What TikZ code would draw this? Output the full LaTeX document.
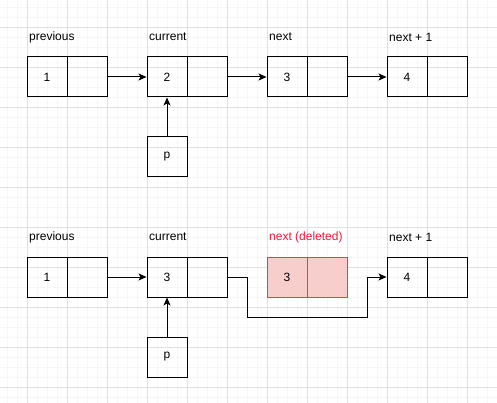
\documentclass[tikz,border=0pt]{standalone}
\usepackage{fontspec}
\setmainfont{Liberation Sans}
\usetikzlibrary{arrows.meta}
\definecolor{gridminor}{HTML}{F6F6F6}
\definecolor{gridmajor}{HTML}{E0E0E0}
\definecolor{delfill}{HTML}{F8CECC}
\definecolor{deldraw}{HTML}{B85450}
\definecolor{delred}{HTML}{EC1C3C}
\tikzset{
  cell/.style={draw=black, line width=1pt, minimum width=40pt, minimum height=40pt, inner sep=0pt, font=\fontsize{12}{14}\selectfont},
  delcell/.style={cell, draw=deldraw, fill=delfill},
  lbl/.style={anchor=west, inner sep=0pt, font=\fontsize{12}{14}\selectfont},
  arr/.style={line width=1pt, -{Stealth[length=8pt,width=7pt,inset=2pt]}},
}
\begin{document}
\begin{tikzpicture}[x=1pt,y=-1pt]
\useasboundingbox (0,0) rectangle (497,403);
\fill[white] (0,0) rectangle (497,403);
% grid
\foreach \x in {7,17,...,497} \draw[gridminor, line width=0.8pt] (\x,0) -- (\x,403);
\foreach \y in {7,17,...,403} \draw[gridminor, line width=0.8pt] (0,\y) -- (497,\y);
\foreach \x in {27,67,...,497} \draw[gridmajor, line width=0.8pt] (\x,0) -- (\x,403);
\foreach \y in {27,67,...,403} \draw[gridmajor, line width=0.8pt] (0,\y) -- (497,\y);

% ---------- top row ----------
\node[lbl] (t1l) at (29,37) {previous};
\node[lbl] (t2l) at (149,37) {current};
\node[lbl] (t3l) at (269,37) {next};
\node[lbl] (t4l) at (389,37) {next + 1};

\node[cell] (t1v) at (47,77) {1};
\node[cell] (t1n) at (87,77) {};
\node[cell] (t2v) at (167,77) {2};
\node[cell] (t2n) at (207,77) {};
\node[cell] (t3v) at (287,77) {3};
\node[cell] (t3n) at (327,77) {};
\node[cell] (t4v) at (407,77) {4};
\node[cell] (t4n) at (447,77) {};
\node[cell] (tp) at (167,157) {p};

\draw[arr] (t1n.east) -- (t2v.west);
\draw[arr] (t2n.east) -- (t3v.west);
\draw[arr] (t3n.east) -- (t4v.west);
\draw[arr] (tp.north) -- (t2v.south);

% ---------- bottom row ----------
\node[lbl] (b1l) at (29,237) {previous};
\node[lbl] (b2l) at (149,237) {current};
\node[lbl, text=delred] (b3l) at (269,237) {next (deleted)};
\node[lbl] (b4l) at (389,237) {next + 1};

\node[cell] (b1v) at (47,277) {1};
\node[cell] (b1n) at (87,277) {};
\node[cell] (b2v) at (167,277) {3};
\node[cell] (b2n) at (207,277) {};
\node[delcell] (b3v) at (287,277) {3};
\node[delcell] (b3n) at (327,277) {};
\node[cell] (b4v) at (407,277) {4};
\node[cell] (b4n) at (447,277) {};
\node[cell] (bp) at (167,357) {p};

\coordinate (r1) at (247,317);
\coordinate (r2) at (367,317);

\draw[arr] (b1n.east) -- (b2v.west);
\draw[arr] (b2n.east) -| (r1) -- (r2) |- (b4v.west);
\draw[arr] (bp.north) -- (b2v.south);
\end{tikzpicture}
\end{document}
